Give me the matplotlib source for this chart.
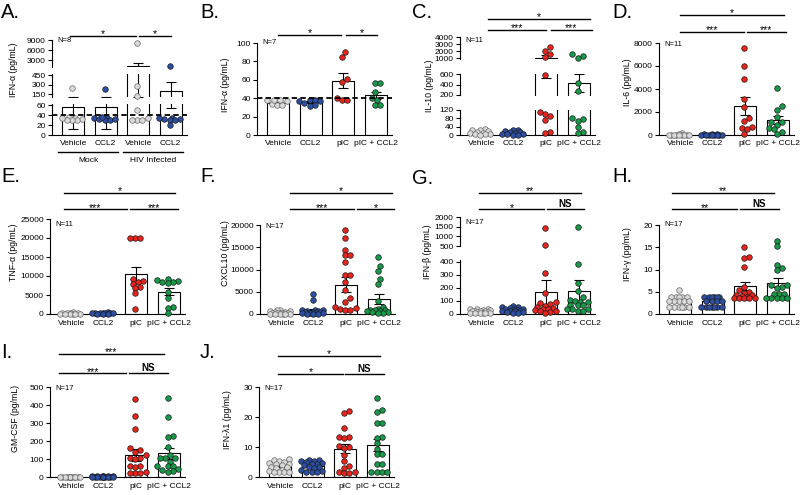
import numpy as np
import matplotlib
matplotlib.use('Agg')
import matplotlib.pyplot as plt
from matplotlib.transforms import blended_transform_factory

plt.rcParams['font.family'] = ['Liberation Sans', 'DejaVu Sans']
plt.rcParams['font.size'] = 6
plt.rcParams['axes.linewidth'] = 0.8

W, H = 800, 495

GRAY = '#dadada'
BLUE = '#2c4fa3'
RED = '#e8241d'
GREEN = '#17994a'

cats = ['Vehicle', 'CCL2', 'pIC', 'pIC + CCL2']
cats_a = ['Vehicle', 'CCL2', 'Vehicle', 'CCL2']
groups_a = ['Mock', 'HIV Infected']

# ---- values (points, bar means, SEM) ----
a_pts = [[240, 36, 35, 33, 31, 30, 31, 34],
         [235, 35, 34, 32, 30, 31, 33, 36],
         [8100, 275, 115, 50, 30, 30, 31, 35],
         [1300, 35, 33, 32, 30, 34, 31, 20]]
a_mean = [57, 57, 1070, 200]
a_sem = [45, 45, 960, 145]

b_pts = [[38, 38, 37, 34, 33, 33, 38],
         [38, 38, 37, 37, 35, 33, 32],
         [90, 85, 61, 58, 40, 38, 38],
         [57, 57, 47, 40, 38, 33, 33]]
b_mean = [35, 36, 59, 43]
b_sem = [1, 1, 8, 4]

c_pts = [[30, 25, 22, 18, 14, 10, 8, 6, 5, 3, 2],
         [25, 22, 20, 16, 14, 10, 6, 4, 3, 2, 2],
         [2570, 2090, 1600, 1230, 580, 108, 101, 89, 72, 16, 10],
         [1600, 1400, 1050, 423, 282, 82, 77, 65, 36, 13, 10]]
c_mean = [13, 12, 1000, 430]
c_sem = [3, 3, 480, 170]

d_pts = [[150, 60, 40, 30, 30, 20, 20, 10, 10, 10, 5],
         [60, 50, 50, 40, 40, 30, 30, 30, 20, 20, 10],
         [7570, 6010, 4910, 3120, 2400, 1500, 1240, 660, 580, 490, 90],
         [4100, 2510, 2170, 1590, 1155, 1100, 870, 635, 490, 290, 90]]
d_mean = [40, 35, 2510, 1300]
d_sem = [15, 6, 780, 350]

e_pts = [[600, 300, 200, 200, 150, 100, 100, 100, 50, 50, 50],
         [400, 300, 300, 250, 200, 200, 150, 150, 100, 100, 100],
         [20000, 20000, 20000, 9200, 8800, 8400, 7900, 7000, 6800, 5500, 1300],
         [9150, 8980, 8800, 8540, 8360, 8100, 5720, 4140, 1940, 1500, 180]]
e_mean = [170, 210, 10560, 5900]
e_sem = [50, 35, 1700, 1000]

f_pts = [[900, 800, 700, 600, 500, 400, 300, 300, 200, 200, 200, 100, 100, 100, 50, 50, 50],
         [4400, 3100, 1000, 900, 800, 700, 600, 500, 500, 400, 300, 300, 200, 200, 100, 100, 100],
         [18900, 17000, 14400, 13300, 13300, 11600, 8800, 8800, 7300, 5300, 3500, 2600, 1600, 1300, 1100, 800, 800],
         [12700, 10700, 9700, 7800, 6800, 3000, 1500, 1200, 1000, 900, 800, 700, 600, 500, 400, 300, 200]]
f_mean = [330, 840, 6600, 3300]
f_sem = [70, 300, 1700, 1100]

g_pts = [[40, 40, 35, 30, 30, 25, 25, 20, 20, 15, 15, 10, 10, 10, 5, 5, 5],
         [60, 55, 50, 45, 40, 40, 35, 30, 30, 25, 25, 20, 20, 15, 15, 10, 10],
         [1450, 560, 311, 158, 90, 85, 80, 60, 50, 45, 40, 35, 30, 25, 20, 15, 10],
         [1500, 380, 240, 175, 130, 110, 100, 95, 95, 70, 70, 70, 40, 40, 40, 20, 20]]
g_mean = [20, 31, 170, 178]
g_sem = [3, 4, 90, 85]

h_pts = [[5.4, 3.9, 3.9, 3.9, 3.9, 3.9, 2.9, 2.9, 2.9, 2.9, 2.9, 1.6, 1.6, 1.6, 1.6, 1.6, 1.6],
         [3.9, 3.9, 3.9, 3.9, 3.9, 3.9, 2.9, 2.9, 2.9, 2.9, 1.6, 1.6, 1.6, 1.6, 1.6, 1.6, 1.6],
         [15.0, 12.7, 12.6, 10.5, 6.1, 5.5, 5.0, 4.7, 4.3, 4.2, 4.0, 3.8, 3.7, 3.6, 3.6, 3.5, 3.5],
         [16.4, 15.2, 11.1, 10.4, 10.0, 6.6, 6.6, 6.1, 5.9, 4.5, 4.5, 4.5, 3.6, 3.6, 3.6, 3.6, 3.6]]
h_mean = [3.0, 2.9, 6.3, 7.0]
h_sem = [0.3, 0.25, 0.9, 1.0]

i_pts = [[2, 2, 1, 1, 1, 1, 1, 1, 1, 1, 1, 1, 0, 0, 0, 0, 0],
         [5, 4, 4, 3, 3, 3, 2, 2, 2, 2, 2, 2, 1, 1, 1, 1, 1],
         [435, 340, 265, 160, 150, 140, 125, 105, 105, 100, 60, 60, 55, 30, 20, 20, 20],
         [440, 335, 230, 220, 165, 120, 105, 105, 105, 85, 60, 60, 60, 45, 40, 35, 30]]
i_mean = [1, 2.4, 122, 131]
i_sem = [0.2, 0.3, 35, 30]

j_pts = [[6.0, 5.8, 5.3, 5.0, 4.8, 4.5, 4.3, 4.0, 3.5, 3.2, 3.0, 2.5, 2.0, 1.8, 1.8, 1.8, 1.8],
         [5.8, 5.6, 5.5, 5.3, 5.0, 4.8, 4.5, 4.3, 4.0, 3.5, 3.2, 3.0, 2.5, 2.0, 1.8, 1.8, 1.8],
         [22.0, 21.3, 16.3, 13.2, 13.2, 13.0, 10.5, 10.0, 9.8, 7.3, 5.4, 3.7, 3.0, 1.8, 1.6, 1.4, 1.4],
         [26.5, 22.5, 21.8, 18.0, 18.0, 13.2, 13.0, 11.2, 9.5, 7.6, 7.6, 4.5, 4.5, 1.8, 1.6, 1.6, 1.8]]
j_mean = [3.65, 3.7, 9.5, 10.6]
j_sem = [0.4, 0.4, 1.6, 2.0]

fig = plt.figure(figsize=(W / 100, H / 100), dpi=100)
X = np.arange(4)


def swarm(ax, x0, vals, d=5.2, half=11.5):
    # beeswarm in pixel space, kept inside +-half px; overlaps allowed when crowded
    tr = ax.transData
    ypx = tr.transform(np.column_stack([np.full(len(vals), x0), vals]))[:, 1]
    x0px = tr.transform((x0, 0))[0]
    cand = np.arange(-half, half + 0.01, d * 0.5)
    cand = cand[np.argsort(np.abs(cand), kind='stable')]
    placed = []
    xs = np.zeros(len(vals))
    for i in np.argsort(vals, kind='stable'):
        best, best_gap = 0.0, -1
        for c in cand:
            gap = min([np.hypot(c + x0px - px, ypx[i] - py) for px, py in placed] or [99])
            if gap >= d * 0.92:
                best = c
                break
            if gap > best_gap + 0.3:
                best, best_gap = c, gap
        placed.append((x0px + best, ypx[i]))
        xs[i] = x0px + best
    return tr.inverted().transform(np.column_stack([xs, ypx]))[:, 0]


def panel(left, segs, pts, means, sems, cols, ticklabels, xpad):
    axes = []
    for n, (lo, hi, plo, phi, ticks) in enumerate(segs):
        ax = fig.add_axes([left / W, 1 - plo / H, 135 / W, (plo - phi) / H])
        ax.set_xlim(-0.65, 3.5)
        ax.set_ylim(lo, hi)
        ax.bar(X, means, 0.68, color='white', edgecolor='black', linewidth=0.8, zorder=1)
        ax.errorbar(X, means, yerr=sems, fmt='none', ecolor='black', elinewidth=0.8,
                    capsize=3.5, capthick=0.8, zorder=2)
        for j in range(4):
            v = np.asarray(pts[j], float)
            v = v[(v >= lo) & (v <= hi)]
            if len(v):
                ec = '#666666' if cols[j] == GRAY else '#1a1a1a'
                ax.scatter(swarm(ax, j, v), v, s=16, color=cols[j], edgecolors=ec,
                           linewidths=0.5, zorder=3, clip_on=False)
        ax.spines[['top', 'right']].set_visible(False)
        ax.set_yticks(ticks)
        ax.tick_params(axis='y', length=3, width=0.8, pad=1.5, labelsize=6)
        if n == 0:
            ax.set_xticks(X, ticklabels)
            ax.tick_params(axis='x', length=0, pad=xpad, labelsize=6)
        else:
            ax.spines['bottom'].set_visible(False)
            ax.set_xticks([])
        ax.patch.set_alpha(0)
        axes.append(ax)
    return axes


def bracket(ax, x0, x1, ypx, label):
    tr = blended_transform_factory(ax.transData, fig.transFigure)
    yf = 1 - ypx / H
    ax.plot([x0, x1], [yf, yf], transform=tr, color='black', lw=1.0, clip_on=False)
    if label == 'NS':
        ax.text((x0 + x1) / 2, 1 - (ypx - 2) / H, label, transform=tr, ha='center',
                va='baseline', fontsize=7, fontweight='bold')
    else:
        ax.text((x0 + x1) / 2, 1 - (ypx + 1.5) / H, label, transform=tr, ha='center',
                va='baseline', fontsize=7.5)


C4 = [GRAY, BLUE, RED, GREEN]
panels = [
    dict(letter='A.', lx=1, ly=7, left=52, pts=a_pts, mean=a_mean, sem=a_sem,
         cols=[GRAY, BLUE, GRAY, BLUE], xt=cats_a, xpad=3.5,
         segs=[(0, 62, 135, 104, [0, 20, 40, 60]), (100, 460, 97.2, 74.4, [150, 300, 450]),
               (900, 9100, 67, 39.7, [3000, 6000, 9000])],
         ylab='IFN-α (pg/mL)', ylx=13, yly=70, n='N=8', ny=41, dash=41,
         br=[(-0.1, 1.93, 36, '*'), (2.03, 3.0, 36, '*')]),
    dict(letter='B.', lx=200, ly=7, left=257, pts=b_pts, mean=b_mean, sem=b_sem,
         cols=C4, xt=cats, xpad=3.5, segs=[(0, 100, 135, 43, [0, 20, 40, 60, 80, 100])],
         ylab='IFN-α (pg/mL)', ylx=225, yly=85, n='N=7', ny=43, dash=40,
         br=[(0.0, 1.93, 35, '*'), (2.08, 3.05, 35, '*')]),
    dict(letter='C.', lx=412, ly=7, left=460, pts=c_pts, mean=c_mean, sem=c_sem,
         cols=C4, xt=cats, xpad=3.5,
         segs=[(0, 122, 135, 109.5, [0, 40, 80, 120]), (190, 610, 95.5, 73.5, [200, 400, 600]),
               (950, 4050, 58.7, 37, [1000, 2000, 3000, 4000])],
         ylab='IL-10 (pg/mL)', ylx=429, yly=86, n='N=11', ny=41, dash=None,
         br=[(0.2, 3.35, 19, '*'), (0.2, 2.0, 29.5, '***'), (2.15, 3.4, 29.5, '***')]),
    dict(letter='D.', lx=612, ly=7, left=659, pts=d_pts, mean=d_mean, sem=d_sem,
         cols=C4, xt=cats, xpad=3.5, segs=[(0, 8000, 135, 43, [0, 2000, 4000, 6000, 8000])],
         ylab='IL-6 (pg/mL)', ylx=628, yly=82, n='N=11', ny=45, dash=None,
         br=[(0.0, 3.2, 14.5, '*'), (0.0, 1.96, 32, '***'), (2.05, 3.24, 32, '***')]),
    dict(letter='E.', lx=1, ly=170, left=50, pts=e_pts, mean=e_mean, sem=e_sem,
         cols=C4, xt=cats, xpad=4.5,
         segs=[(0, 25000, 314, 219, [0, 5000, 10000, 15000, 20000, 25000])],
         ylab='TNF-α (pg/mL)', ylx=14, yly=252, n='N=11', ny=225, dash=None,
         br=[(-0.22, 3.2, 192.7, '*'), (-0.22, 1.71, 209.3, '***'), (1.81, 3.27, 209.3, '***')]),
    dict(letter='F.', lx=200, ly=170, left=260, pts=f_pts, mean=f_mean, sem=f_sem,
         cols=C4, xt=cats, xpad=4.5,
         segs=[(0, 20000, 314, 225, [0, 5000, 10000, 15000, 20000])],
         ylab='CXCL10 (pg/mL)', ylx=225, yly=253, n='N=17', ny=226, dash=None,
         br=[(0.27, 3.4, 192.7, '*'), (0.27, 2.24, 209.3, '***'), (2.33, 3.48, 209.3, '*')]),
    dict(letter='G.', lx=412, ly=172, left=460, pts=g_pts, mean=g_mean, sem=g_sem,
         cols=C4, xt=cats, xpad=4.5,
         segs=[(0, 410, 314, 260.4, [0, 100, 200, 300, 400]),
               (480, 2030, 246.4, 216.7, [500, 1000, 1500, 2000])],
         ylab='IFN-β (pg/mL)', ylx=428, yly=252, n='N=17', ny=222, dash=None,
         br=[(-0.06, 3.06, 192.7, '**'), (-0.06, 1.93, 209.3, '*'), (2.02, 3.15, 209.3, 'NS')]),
    dict(letter='H.', lx=612, ly=170, left=659, pts=h_pts, mean=h_mean, sem=h_sem,
         cols=C4, xt=cats, xpad=4.5, segs=[(0, 20, 314, 225, [0, 5, 10, 15, 20])],
         ylab='IFN-γ (pg/mL)', ylx=628, yly=254, n='N=17', ny=225, dash=None,
         br=[(-0.24, 2.9, 192.7, '**'), (-0.24, 1.74, 209.3, '**'), (1.83, 3.03, 209.3, 'NS')]),
    dict(letter='I.', lx=1, ly=347, left=50, pts=i_pts, mean=i_mean, sem=i_sem,
         cols=C4, xt=cats, xpad=4.5, segs=[(0, 500, 477, 387, [0, 100, 200, 300, 400, 500])],
         ylab='GM-CSF (pg/mL)', ylx=15, yly=418, n='N=17', ny=388, dash=None,
         br=[(-0.38, 2.84, 354, '***'), (-0.38, 1.70, 373.3, '***'), (1.77, 2.97, 373.3, 'NS')]),
    dict(letter='J.', lx=200, ly=347, left=259, pts=j_pts, mean=j_mean, sem=j_sem,
         cols=C4, xt=cats, xpad=4.5, segs=[(0, 30, 477, 387, [0, 10, 20, 30])],
         ylab='IFN-λ1 (pg/mL)', ylx=227, yly=420, n='N=17', ny=388, dash=None,
         br=[(-0.06, 3.06, 356, '*'), (-0.06, 1.93, 374, '*'), (1.99, 3.18, 374, 'NS')]),
]

for p in panels:
    axes = panel(p['left'], p['segs'], p['pts'], p['mean'], p['sem'], p['cols'], p['xt'], p['xpad'])
    if p['dash'] is not None:
        axes[0].axhline(p['dash'], color='black', ls=(0, (3, 1.8)), lw=1.3, zorder=4)
    fig.text(p['ylx'] / W, 1 - p['yly'] / H, p['ylab'], rotation=90, ha='center', va='center', fontsize=6.3)
    fig.text((p['left'] + 5) / W, 1 - p['ny'] / H, p['n'], ha='left', va='center', fontsize=5.5)
    fig.text(p['lx'] / W, 1 - (p['ly'] - 3.5) / H, p['letter'], ha='left', va='top', fontsize=14.5)
    for x0, x1, y, lab in p['br']:
        bracket(axes[-1], x0, x1, y, lab)

# group labels under panel A
ax0 = fig.axes[0]
tr = blended_transform_factory(ax0.transData, fig.transFigure)
for (x0, x1), lab in zip([(-0.46, 1.38), (1.54, 3.38)], groups_a):
    ax0.plot([x0, x1], [1 - 152 / H] * 2, transform=tr, color='black', lw=1.0, clip_on=False)
    ax0.text((x0 + x1) / 2, 1 - 160 / H, lab, transform=tr, ha='center', va='center', fontsize=6)

fig.savefig('out.png', dpi=100)
